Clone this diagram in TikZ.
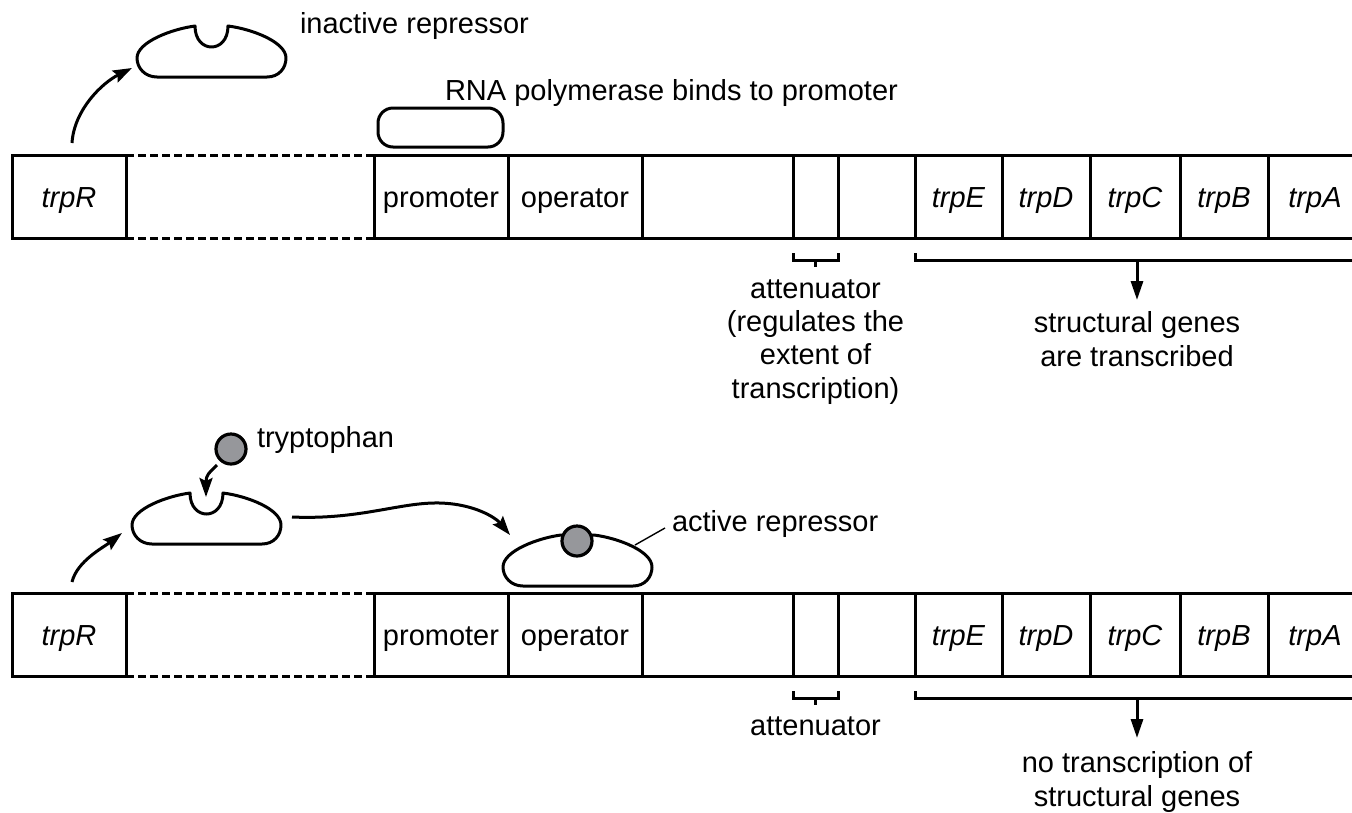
\documentclass[tikz,border=0pt]{standalone}
\usepackage{fontspec}
\setmainfont{Liberation Sans}
\usetikzlibrary{arrows.meta,calc}
\definecolor{trpgray}{RGB}{150,151,155}
\tikzset{
  lbl/.style={font=\fontsize{29}{34}\selectfont, inner sep=0pt, outer sep=0pt},
  gbox/.style={draw, line width=3pt, outer sep=0pt, inner sep=0pt, minimum height=83pt,
    text height=21pt, text depth=0pt, anchor=north west, font=\fontsize{29}{34}\selectfont},
  gap/.style={line width=3pt, dash pattern=on 8pt off 4pt},
  brk/.style={line width=3pt},
  arr/.style={line width=3pt, -{Stealth[length=19pt,width=13pt,inset=3pt]}},
  darr/.style={line width=3pt, -{Triangle[length=19pt,width=12pt]}},
  shapeline/.style={line width=3pt, line join=round, fill=white},
  trpball/.style={circle, draw, fill=trpgray, line width=3.2pt, minimum size=30pt, inner sep=0pt, outer sep=0pt},
  pics/reprN/.style={code={
    \draw[shapeline] (20,51) -- (130,51) .. controls (142,51) and (149,42) .. (149,32)
      .. controls (149,16) and (115,3) .. (91,0)
      .. controls (91,28) and (58,28) .. (58,0)
      .. controls (35,3) and (0,16) .. (0,32)
      .. controls (0,42) and (8,51) .. (20,51) -- cycle;
    \coordinate (-w) at (0,32);
    \coordinate (-e) at (149,32);
    \coordinate (-notch) at (74,4);
  }},
  pics/reprP/.style={code={
    \draw[shapeline] (20,51) -- (130,51) .. controls (142,51) and (149,42) .. (149,32)
      .. controls (149,16) and (115,3) .. (91,0)
      -- (58,0)
      .. controls (35,3) and (0,16) .. (0,32)
      .. controls (0,42) and (8,51) .. (20,51) -- cycle;
    \coordinate (-w) at (0,32);
    \coordinate (-e) at (149,32);
    \coordinate (-site) at (74,6);
    \coordinate (-lead) at (132,10);
  }}
}
\begin{document}
\begin{tikzpicture}[x=1pt,y=-1pt]
\useasboundingbox (0,0) rectangle (1352,812);

% ---------- the two gene strips ----------
\foreach \s/\dy in {a/0,b/438}{
  \begin{scope}[shift={(0,\dy)}]
    \node[gbox, minimum width=114pt] (\s R) at (12,155) {\textit{trpR}};
    \node[gbox, minimum width=134pt] (\s P) at (374,155) {promoter};
    \node[gbox, minimum width=134pt] (\s O) at (508,155) {operator};
    \node[gbox, minimum width=151pt] (\s L) at (642,155) {};
    \node[gbox, minimum width=45pt]  (\s T) at (793,155) {};
    \node[gbox, minimum width=77pt]  (\s M) at (838,155) {};
    \node[gbox, minimum width=87pt]  (\s E) at (915,155) {\textit{trpE}};
    \node[gbox, minimum width=88pt]  (\s D) at (1002,155) {\textit{trpD}};
    \node[gbox, minimum width=90pt]  (\s C) at (1090,155) {\textit{trpC}};
    \node[gbox, minimum width=88pt]  (\s B) at (1180,155) {\textit{trpB}};
    \node[gbox, minimum width=94pt]  (\s A) at (1268,155) {\textit{trpA}};
    \draw[gap] (\s R.north east) -- (\s P.north west);
    \draw[gap] (\s R.south east) -- (\s P.south west);
    % attenuator bracket
    \draw[brk] ($(\s T.south west)+(0,15)$) -- ($(\s T.south west)+(0,22)$)
      -- ($(\s T.south east)+(0,22)$) -- ($(\s T.south east)+(0,15)$);
    \draw[brk] ($(\s T.south)+(0,22)$) -- ($(\s T.south)+(0,29)$);
    % structural genes bracket
    \draw[brk] ($(\s E.south west)+(0,15)$) -- ($(\s E.south west)+(0,22)$)
      -- ($(\s A.south east)+(0,22)$);
    \coordinate (\s arrS) at (1137,260);
    \coordinate (\s arrE) at (1137,300);
    \draw[darr] (\s arrS) -- (\s arrE);
  \end{scope}
}

% ---------- top panel ----------
\pic (r1) at (137,26) {reprN};
\node[lbl, anchor=base west] (inact) at (300,33) {inactive repressor};
\draw[arr] ($(aR.north)+(3,-12)$) .. controls ($(aR.north)+(5,-45)$) and ($(r1-w)+(-35,25)$) .. ($(r1-w)+(-5,10)$);

\node[draw, rounded corners=15pt, line width=3pt, minimum width=125pt, minimum height=39pt,
  inner sep=0pt, outer sep=0pt, anchor=north west] (pol) at (378,108) {};
\node[lbl, anchor=base west] (poltxt) at (445,100) {RNA polymerase binds to promoter};

\node[lbl, anchor=base] (att1) at (815.5,298) {attenuator};
\node[lbl, anchor=base] (att2) at (815.5,331) {(regulates the};
\node[lbl, anchor=base] (att3) at (815.5,364.5) {extent of};
\node[lbl, anchor=base] (att4) at (815.5,398) {transcription)};

\node[lbl, anchor=base] (sg1) at (1137,332) {structural genes};
\node[lbl, anchor=base] (sg2) at (1137,366) {are transcribed};

% ---------- bottom panel ----------
\pic (r2) at (132,493) {reprN};
\pic (r3) at (503,535) {reprP};
\node[trpball] (ball1) at (231,449) {};
\node[lbl, anchor=base west] (trptxt) at (257,447) {tryptophan};
\node[trpball] (ball2) at (r3-site) {};

\draw[arr] ($(bR.north)+(3,-11)$) .. controls ($(bR.north)+(8,-32)$) and ($(r2-w)+(-28,22)$) .. ($(r2-w)+(-10,8)$);
\draw[arr] ($(ball1.center)+(-14,16)$) .. controls ($(ball1.center)+(-22,24)$) and ($(r2-notch)+(0,-22)$) .. (r2-notch);
\draw[arr] ($(r2-e)+(11,-8)$) .. controls (360,520) and (400,502) .. (440,503)
  .. controls (475,504) and (496,518) .. ($(r3-w)+(7,-32)$);

\coordinate (lead2) at (665,528);
\draw[line width=1.4pt] (r3-lead) -- (lead2);
\node[lbl, anchor=base west] (acttxt) at (672,531) {active repressor};

\node[lbl, anchor=base] (batt) at (815.5,735) {attenuator};
\node[lbl, anchor=base] (nt1) at (1137,772) {no transcription of};
\node[lbl, anchor=base] (nt2) at (1137,806) {structural genes};
\end{tikzpicture}
\end{document}
